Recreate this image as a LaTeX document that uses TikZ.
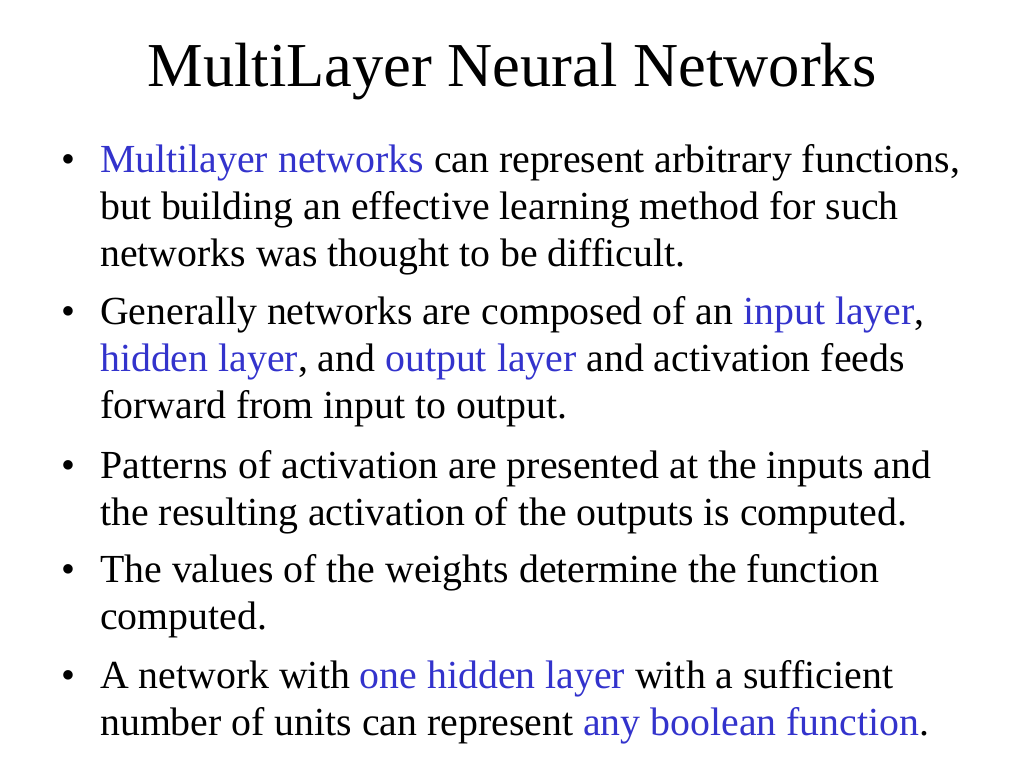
\documentclass[tikz,border=0pt]{standalone}
\usepackage{fontspec}
\setmainfont{Liberation Serif}
\usepackage{tikz}
\usetikzlibrary{positioning}
\definecolor{slideBlue}{RGB}{51,51,204}
\newcommand{\hl}[1]{\textcolor{slideBlue}{#1}}

\begin{document}
\begin{tikzpicture}[x=1pt, y=-1pt,
  title/.style={font=\fontsize{62.5}{70}\selectfont, anchor=base},
  item/.style={font=\fontsize{39.8}{47}\selectfont, anchor=base west, align=left, inner sep=0pt},
  dot/.style={font=\fontsize{39.8}{47}\selectfont, anchor=base west, inner sep=0pt}]

  \useasboundingbox (0,0) rectangle (1024,768);

  \node[title] (head) at (512, 86) {MultiLayer Neural Networks};

  % anchor base = baseline of the last line
  \node[dot] (b1) at (61, 172) {\textbullet};
  \node[item] (t1) at (100, 266) {\hl{Multilayer networks} can represent arbitrary functions,\\
    but building an effective learning method for such\\
    networks was thought to be difficult.};

  \node[dot] (b2) at (61, 324) {\textbullet};
  \node[item] (t2) at (100, 418) {Generally networks are composed of an \hl{input layer},\\
    \hl{hidden layer}, and \hl{output layer} and activation feeds\\
    forward from input to output.};

  \node[dot] (b3) at (61, 478) {\textbullet};
  \node[item] (t3) at (100, 525) {Patterns of activation are presented at the inputs and\\
    the resulting activation of the outputs is computed.};

  \node[dot] (b4) at (61, 582) {\textbullet};
  \node[item] (t4) at (100, 629) {The values of the weights determine the function\\
    computed.};

  \node[dot] (b5) at (61, 688) {\textbullet};
  \node[item] (t5) at (100, 735) {A network with \hl{one hidden layer} with a sufficient\\
    number of units can represent \hl{any boolean function}.};
\end{tikzpicture}
\end{document}
